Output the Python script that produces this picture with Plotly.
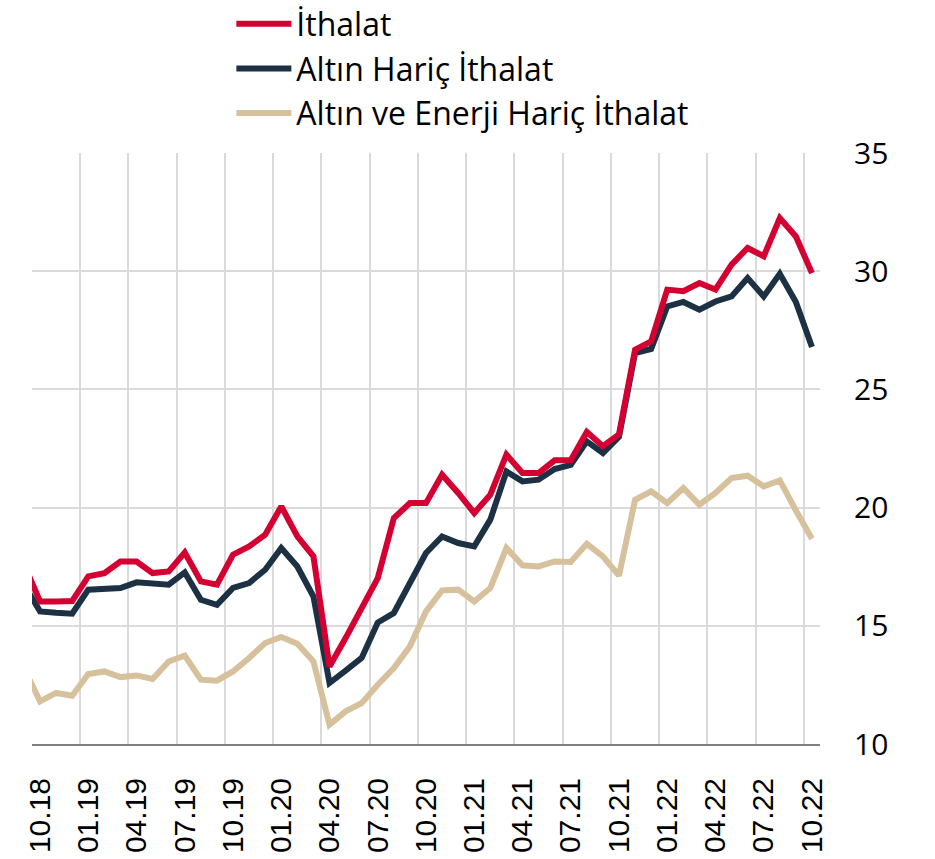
import plotly.graph_objects as go

months = ["09.18", "10.18", "11.18", "12.18",
          "01.19", "02.19", "03.19", "04.19", "05.19", "06.19", "07.19", "08.19", "09.19", "10.19", "11.19", "12.19",
          "01.20", "02.20", "03.20", "04.20", "05.20", "06.20", "07.20", "08.20", "09.20", "10.20", "11.20", "12.20",
          "01.21", "02.21", "03.21", "04.21", "05.21", "06.21", "07.21", "08.21", "09.21", "10.21", "11.21", "12.21",
          "01.22", "02.22", "03.22", "04.22", "05.22", "06.22", "07.22", "08.22", "09.22", "10.22"]

ithalat = [17.60, 16.03, 16.03, 16.05, 17.09, 17.23, 17.72, 17.72, 17.23, 17.30,
           18.10, 16.88, 16.74, 18.01, 18.36, 18.85, 20.05, 18.78, 17.94, 13.28,
           14.48, 15.77, 17.02, 19.56, 20.19, 20.19, 21.39, 20.62, 19.77, 20.55,
           22.24, 21.46, 21.46, 22.00, 22.00, 23.20, 22.60, 23.10, 26.68, 27.03,
           29.22, 29.15, 29.50, 29.22, 30.28, 30.98, 30.63, 32.25, 31.47, 29.92]

altin_haric = [16.75, 15.61, 15.55, 15.51, 16.53, 16.57, 16.60, 16.84, 16.77, 16.74,
               17.26, 16.10, 15.89, 16.60, 16.81, 17.37, 18.29, 17.51, 16.24, 12.58,
               13.10, 13.64, 15.14, 15.54, 16.81, 18.08, 18.78, 18.50, 18.36, 19.49,
               21.53, 21.11, 21.18, 21.63, 21.81, 22.80, 22.31, 23.00, 26.54, 26.71,
               28.51, 28.70, 28.37, 28.72, 28.93, 29.71, 28.93, 29.89, 28.70, 26.79]

altin_enerji_haric = [13.22, 11.80, 12.16, 12.04, 12.96, 13.07, 12.83, 12.90, 12.75, 13.49,
                      13.74, 12.72, 12.68, 13.07, 13.64, 14.27, 14.53, 14.24, 13.49, 10.82,
                      11.38, 11.73, 12.51, 13.21, 14.13, 15.61, 16.50, 16.53, 16.03, 16.60,
                      18.29, 17.56, 17.51, 17.72, 17.70, 18.47, 17.94, 17.12, 20.33, 20.69,
                      20.19, 20.83, 20.12, 20.62, 21.25, 21.35, 20.90, 21.15, 19.88, 18.68]

tick_labels = ["10.18", "01.19", "04.19", "07.19", "10.19", "01.20", "04.20", "07.20", "10.20",
               "01.21", "04.21", "07.21", "10.21", "01.22", "04.22", "07.22", "10.22"]

series_names = ["İthalat", "Altın Hariç İthalat", "Altın ve Enerji Hariç İthalat"]
colors = ["#D50032", "#1D3145", "#D7C09C"]

x = list(range(len(months)))
tick_pos = [months.index(t) for t in tick_labels]
grid_pos = [p - 0.5 for p in tick_pos]

fig = go.Figure()
data = [ithalat, altin_haric, altin_enerji_haric]
# draw tan first, red last (on top)
for idx in [2, 1, 0]:
    fig.add_trace(go.Scatter(
        x=x, y=data[idx], mode="lines", name=series_names[idx],
        line=dict(color=colors[idx], width=6),
        legendrank=idx + 1,
    ))

fig.update_layout(
    template="none",
    width=935, height=859,
    margin=dict(l=32, r=115, t=153, b=115, autoexpand=False),
    paper_bgcolor="white", plot_bgcolor="white",
    font=dict(family="Open Sans", size=32, color="black"),
    showlegend=True,
    legend=dict(
        x=0.253, xanchor="left", y=1.2648, yanchor="top",
        font=dict(family="Open Sans", size=32, color="black"),
        bgcolor="rgba(0,0,0,0)", itemwidth=55, tracegroupgap=0,
        borderwidth=0,
    ),
    xaxis=dict(
        range=[0.5, len(months) - 0.5],
        tickmode="array", tickvals=tick_pos, ticktext=tick_labels,
        tickangle=-90, automargin=False,
        tickfont=dict(family="Liberation Sans", size=30, color="black"),
        showgrid=False, zeroline=False,
        showline=True, linecolor="#808080", linewidth=2,
        ticks="", ticklabelstandoff=20,
        minor=dict(tickmode="array", tickvals=grid_pos, showgrid=True,
                   gridcolor="#DADADA", gridwidth=1.5, ticks=""),
    ),
    yaxis=dict(
        range=[10, 35], dtick=5, side="right", automargin=False,
        tickfont=dict(family="Open Sans", size=30, color="black"),
        showgrid=True, gridcolor="#DADADA", gridwidth=1.5,
        zeroline=False, showline=False, ticks="", ticklabelstandoff=33,
    ),
)

fig.write_html(
    "out.html",
    config={"displayModeBar": False},
    post_script="document.body.style.margin='0';document.body.style.overflow='hidden';",
)
